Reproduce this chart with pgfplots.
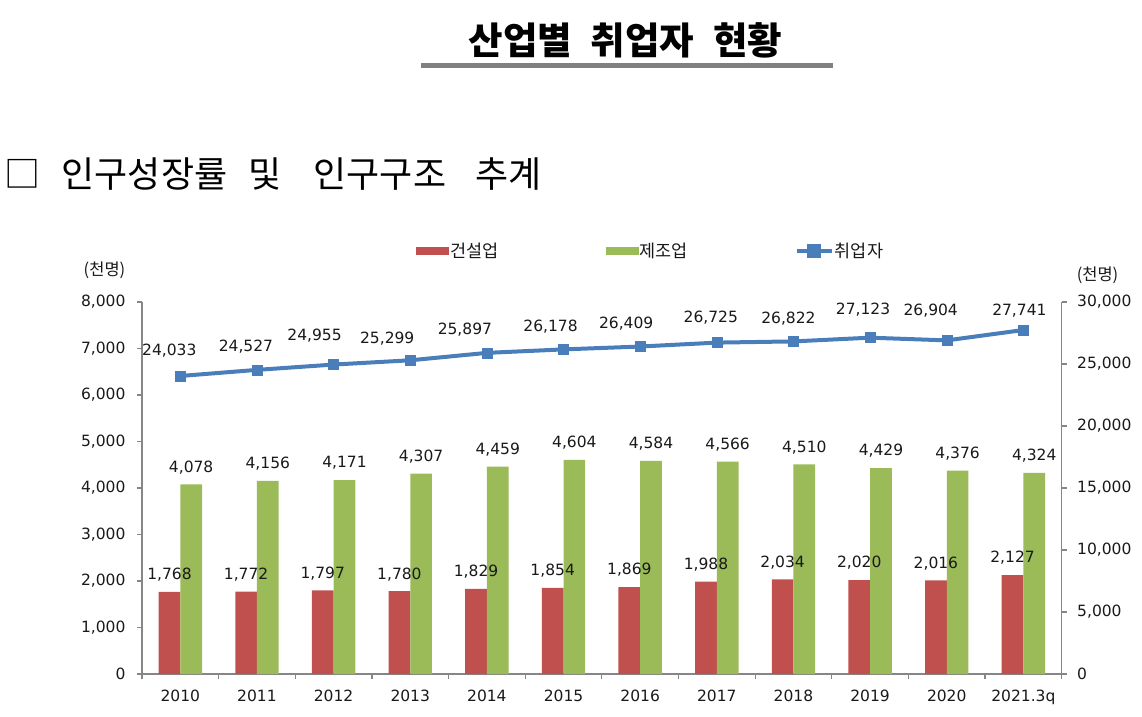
\documentclass[border=0pt]{standalone}
\usepackage{pgfplots}
\usepackage{pgfplotstable}
\pgfplotsset{compat=1.18}
\usepackage{fontspec}
\setmainfont{DejaVu Sans}
\newfontfamily\kr{Noto Sans CJK KR}

\definecolor{conred}{RGB}{192,80,77}
\definecolor{mfggreen}{RGB}{155,187,89}
\definecolor{empblue}{RGB}{74,126,187}
\definecolor{axisgray}{RGB}{134,134,134}
\definecolor{txt}{RGB}{25,25,25}
\definecolor{rulegray}{RGB}{128,128,128}

% construction and manufacturing employment (thousand persons)
\pgfplotstableread{
x con mfg
0 1768 4078
1 1772 4156
2 1797 4171
3 1780 4307
4 1829 4459
5 1854 4604
6 1869 4584
7 1988 4566
8 2034 4510
9 2020 4429
10 2016 4376
11 2127 4324
}\bars

% total employment (thousand persons) with label offsets
\pgfplotstableread{
x emp dx dy
0 24033 -11 25
1 24527 -11 23
2 24955 -19 29
3 25299 -23 22
4 25897 -22 23
5 26178 -13 23
6 26409 -14 23
7 26725 -6 25
8 26822 -5 23
9 27123 -7 28
10 26904 -16 30
11 27741 -4 19
}\emp

\newcommand\numfont{\fontsize{15.5}{18}\selectfont}

\begin{document}
\begin{tikzpicture}[x=1pt,y=1pt]
\path[use as bounding box] (0,0) rectangle (1142,716);

% heading
\node[font=\kr\bfseries\fontsize{37.5}{42}\selectfont, text=black] at (625.5,676)
  {산업별\hspace{19pt}취업자\hspace{19pt}현황};
\fill[rulegray] (421,648) rectangle (833,653);

% section line
\begin{scope}[every node/.style={font=\kr\fontsize{36}{40}\selectfont, anchor=west, inner sep=0pt}]
\node at (4,542) {□};
\node at (61.5,542) {인구성장률};
\node at (248.5,542) {및};
\node at (313.5,542) {인구구조};
\node at (475.5,542) {추계};
\end{scope}

% unit labels
\node[font=\kr\fontsize{16.5}{20}\selectfont, text=txt] at (104.5,446) {(천명)};
\node[font=\kr\fontsize{16.5}{20}\selectfont, text=txt] at (1097.5,441) {(천명)};

\begin{axis}[
  at={(142pt,42pt)}, anchor=south west,
  scale only axis, width=919.7pt, height=372pt,
  xmin=-0.5, xmax=11.5, ymin=0, ymax=8000,
  enlargelimits=false,
  ybar, bar width=21.7pt,
  axis x line*=bottom, axis y line*=left,
  axis line style={draw=axisgray, line width=1.4pt, -},
  xtick={-0.5,0.5,...,11.5}, xticklabels={},
  extra x ticks={0,1,2,3,4,5,6,7,8,9,10,11},
  extra x tick labels={2010,2011,2012,2013,2014,2015,2016,2017,2018,2019,2020,2021.3q},
  extra x tick style={major tick length=0pt, tick label style={yshift=-12pt}},
  ytick={0,1000,...,8000},
  scaled y ticks=false,
  tick align=outside, major tick length=5pt,
  tick style={draw=axisgray, line width=1.2pt},
  yticklabel style={xshift=-8pt},
  tick label style={font=\numfont, text=txt},
  /pgf/number format/1000 sep={,},
  /pgf/number format/assume math mode=true,
  legend columns=3,
  legend style={at={(axis description cs:0.298,1.137)}, anchor=west,
    draw=none, fill=none, inner sep=0pt,
    font=\kr\fontsize{17.5}{20}\selectfont, text=txt,
    nodes={inner sep=1pt},
    /tikz/every even column/.append style={column sep=106pt}},
  legend cell align=left,
  clip=false,
]
\addplot[fill=conred, draw=none, bar shift=-10.85pt,
  legend image code/.code={\fill[conred] (0pt,-4pt) rectangle (33pt,4pt);},
  nodes near coords,
  every node near coord/.append style={font=\numfont, text=txt, anchor=center, yshift=17pt}]
  table[x=x, y=con]{\bars};
\addlegendentry{건설업}
\addplot[fill=mfggreen, draw=none, bar shift=10.85pt,
  legend image code/.code={\fill[mfggreen] (0pt,-4pt) rectangle (33pt,4pt);},
  nodes near coords,
  every node near coord/.append style={font=\numfont, text=txt, anchor=center, yshift=17pt}]
  table[x=x, y=mfg]{\bars};
\addlegendentry{제조업}
\addlegendimage{empblue, line width=4pt,
  legend image code/.code={
    \draw[empblue, line width=4pt] (0pt,0pt) -- (35pt,0pt);
    \fill[empblue] (12.5pt,-5pt) rectangle (22.5pt,5pt);}}
\addlegendentry{취업자}
\end{axis}

\begin{axis}[
  at={(142pt,42pt)}, anchor=south west,
  scale only axis, width=919.7pt, height=372pt,
  xmin=-0.5, xmax=11.5, ymin=0, ymax=30000,
  enlargelimits=false,
  axis x line=none, axis y line*=right,
  axis line style={draw=axisgray, line width=1.4pt, -},
  ytick={0,5000,...,30000},
  scaled y ticks=false,
  tick align=outside, major tick length=5pt,
  tick style={draw=axisgray, line width=1.2pt},
  yticklabel style={xshift=7pt},
  tick label style={font=\numfont, text=txt},
  /pgf/number format/1000 sep={,},
  /pgf/number format/assume math mode=true,
  clip=false,
]
\addplot[empblue, line width=4pt, mark=square*, mark size=5pt,
  mark options={solid, fill=empblue, draw=empblue, line width=0.4pt},
  visualization depends on={\thisrow{dx}\as\dx},
  visualization depends on={\thisrow{dy}\as\dy},
  nodes near coords,
  every node near coord/.append style={font=\numfont, text=txt, anchor=center,
    xshift=\dx pt, yshift=\dy pt}]
  table[x=x, y=emp]{\emp};
\end{axis}
\end{tikzpicture}
\end{document}
